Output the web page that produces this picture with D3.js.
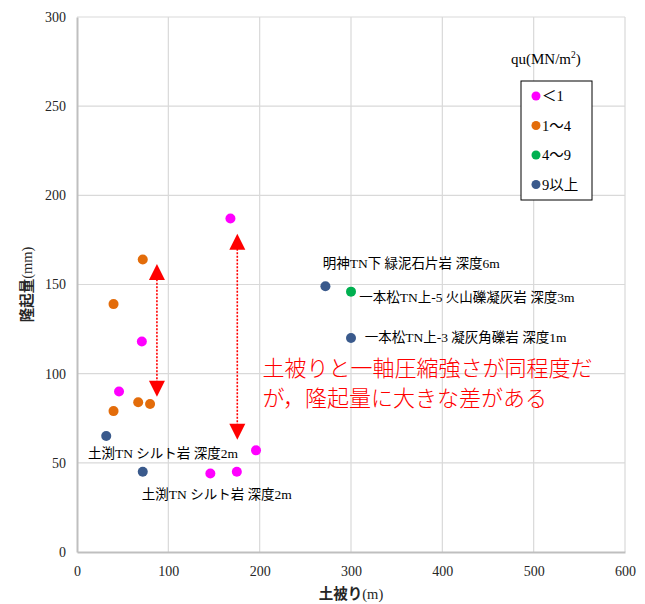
<!DOCTYPE html>
<html>
<head>
<meta charset="utf-8">
<script src="https://cdn.jsdelivr.net/npm/d3@7"></script>
<style>
  body { margin: 0; background: #fff; }
  svg text { font-family: "Liberation Serif", "Times New Roman", "Noto Sans CJK JP", serif; }
</style>
</head>
<body>
<div id="graphContainer"></div>
<script>
// values: [土被り(m), 隆起量(mm)]
const quLt1 = [[168, 187], [71, 118], [46, 90], [146, 44], [175, 45], [196, 57]]
const qu1to4 = [[72, 164], [40, 139], [67, 84], [80, 83], [40, 79]]
const qu4to9 = [[300, 146]]
const quGe9 = [[272, 149], [300, 120], [32, 65], [72, 45]]

const legendNames = ['＜1', '1～4', '4～9', '9以上']
const legendColors = ['#ff00ff', '#e36c0a', '#00b050', '#3a5a8c']

const xTicks = [0, 100, 200, 300, 400, 500, 600]
const yTicks = [0, 50, 100, 150, 200, 250, 300]

// point notes: text, left x, middle y (data units)
const notes = [
  ['明神TN下 緑泥石片岩 深度6m', 269, 162],
  ['一本松TN上-5 火山礫凝灰岩 深度3m', 309, 143],
  ['一本松TN上-3 凝灰角礫岩 深度1m', 315, 120.5],
  ['土渕TN シルト岩 深度2m', 12, 55.5],
  ['土渕TN シルト岩 深度2m', 71, 32.5],
]
const redNote = ['土被りと一軸圧縮強さが同程度だ', 'が，隆起量に大きな差がある']
const redNoteAt = [203, 103, 86.4]

// double arrows: x, bottom tip, top tip
const arrows = [[87.5, 87, 161.5], [175.5, 63, 178.5]]

let svgWidth = 645,
  svgHeight = 604
let margin = { top: 17, right: 20, bottom: 52, left: 77 }
let width = svgWidth - margin.left - margin.right
let height = svgHeight - margin.top - margin.bottom

const serif = '"Liberation Serif", "Times New Roman", "Noto Sans CJK JP", serif'
const gothic = '"Noto Sans CJK JP", sans-serif'

let root = d3
  .select('#graphContainer')
  .append('svg')
  .attr('width', svgWidth)
  .attr('height', svgHeight)

let svg = root.append('g').attr('transform', 'translate(' + margin.left + ',' + margin.top + ')')

let x = d3.scaleLinear().domain([0, 600]).range([0, width])
let y = d3.scaleLinear().domain([0, 300]).range([height, 0])

// grid
svg
  .append('g')
  .selectAll('line')
  .data(xTicks.slice(1))
  .enter()
  .append('line')
  .attr('x1', (d) => x(d))
  .attr('x2', (d) => x(d))
  .attr('y1', 0)
  .attr('y2', height)
  .attr('stroke', '#d9d9d9')
  .attr('stroke-width', 1.2)

svg
  .append('g')
  .selectAll('line')
  .data(yTicks.slice(1))
  .enter()
  .append('line')
  .attr('x1', 0)
  .attr('x2', width)
  .attr('y1', (d) => y(d))
  .attr('y2', (d) => y(d))
  .attr('stroke', '#d9d9d9')
  .attr('stroke-width', 1.2)

// Axis
let xAxis = d3.axisBottom(x).tickValues(xTicks).tickSize(0).tickPadding(14)
let yAxis = d3.axisLeft(y).tickValues(yTicks).tickSize(0).tickPadding(11)

let gx = svg
  .append('g')
  .attr('font-family', null)
  .attr('transform', 'translate(0,' + height + ')')
  .call(xAxis)
gx.attr('font-family', null)
gx.select('.domain').attr('stroke', '#bfbfbf').attr('stroke-width', 2)
gx.selectAll('text').style('font-family', serif).attr('font-size', 14).attr('fill', '#262626')

let gy = svg.append('g').call(yAxis)
gy.attr('font-family', null)
gy.select('.domain').attr('stroke', '#bfbfbf').attr('stroke-width', 2)
gy.selectAll('text').style('font-family', serif).attr('font-size', 14).attr('fill', '#262626')

// axis titles
let xt = root
  .append('text')
  .attr('x', margin.left + width / 2)
  .attr('y', 594)
  .attr('dy', '0.35em')
  .attr('text-anchor', 'middle')
  .attr('font-size', 14.5)
  .attr('fill', '#262626')
xt.append('tspan').style('font-family', gothic).attr('font-weight', 'bold').text('土被り')
xt.append('tspan').text('(m)')

let yt = root
  .append('text')
  .attr('transform', 'translate(27,' + (margin.top + height / 2) + ') rotate(-90)')
  .attr('dy', '0.35em')
  .attr('text-anchor', 'middle')
  .attr('font-size', 14.5)
  .attr('fill', '#262626')
yt.append('tspan').style('font-family', gothic).attr('font-weight', 'bold').text('隆起量')
yt.append('tspan').text('(mm)')

// arrows
let arrowG = svg.append('g')
arrows.forEach((a) => {
  let cx = x(a[0])
  let yTop = y(a[2])
  let yBot = y(a[1])
  arrowG
    .append('line')
    .attr('x1', cx)
    .attr('x2', cx)
    .attr('y1', yBot - 14)
    .attr('y2', yTop + 14)
    .attr('stroke', '#ff0000')
    .attr('stroke-width', 1.6)
    .attr('stroke-dasharray', '2,1.5')
  arrowG
    .append('path')
    .attr('d', 'M' + cx + ',' + yTop + 'L' + (cx + 8) + ',' + (yTop + 16) + 'L' + (cx - 8) + ',' + (yTop + 16) + 'Z')
    .attr('fill', '#ff0000')
  arrowG
    .append('path')
    .attr('d', 'M' + cx + ',' + yBot + 'L' + (cx + 8) + ',' + (yBot - 16) + 'L' + (cx - 8) + ',' + (yBot - 16) + 'Z')
    .attr('fill', '#ff0000')
})

// points
const series = [quLt1, qu1to4, qu4to9, quGe9]
series.forEach((s, i) => {
  svg
    .append('g')
    .selectAll('circle')
    .data(s)
    .enter()
    .append('circle')
    .attr('cx', (d) => x(d[0]))
    .attr('cy', (d) => y(d[1]))
    .attr('r', 5)
    .attr('fill', legendColors[i])
})

// notes
svg
  .append('g')
  .selectAll('text')
  .data(notes)
  .enter()
  .append('text')
  .attr('x', (d) => x(d[1]))
  .attr('y', (d) => y(d[2]))
  .attr('dy', '0.35em')
  .attr('font-size', 13.5)
  .attr('fill', '#000')
  .text((d) => d[0])

svg
  .append('g')
  .selectAll('text')
  .data(redNote)
  .enter()
  .append('text')
  .attr('x', x(redNoteAt[0]))
  .attr('y', (d, i) => y(redNoteAt[1 + i]))
  .attr('dy', '0.36em')
  .style('font-family', gothic)
  .attr('font-weight', 300)
  .attr('font-size', 22)
  .attr('fill', '#ff0000')
  .text((d) => d)

// legend
let lt = root
  .append('text')
  .attr('x', 511)
  .attr('y', 64)
  .attr('font-size', 15)
  .attr('fill', '#000')
lt.append('tspan').text('qu(MN/m')
lt.append('tspan').attr('font-size', 9.5).attr('dy', -6).text('2')
lt.append('tspan').attr('dy', 6).text(')')

let legend = root.append('g').attr('transform', 'translate(521,81)')
legend
  .append('rect')
  .attr('width', 71)
  .attr('height', 119)
  .attr('fill', '#fff')
  .attr('stroke', '#000')
  .attr('stroke-width', 1)

let items = legend
  .selectAll('g.item')
  .data(legendNames)
  .enter()
  .append('g')
  .attr('class', 'item')
  .attr('transform', (d, i) => 'translate(0,' + (15 + i * 29.5) + ')')
items
  .append('circle')
  .attr('cx', 15)
  .attr('cy', 0)
  .attr('r', 4.5)
  .attr('fill', (d, i) => legendColors[i])
items
  .append('text')
  .attr('x', 21)
  .attr('dy', '0.35em')
  .attr('font-size', 14.5)
  .attr('fill', '#000')
  .text((d) => d)
</script>
</body>
</html>
